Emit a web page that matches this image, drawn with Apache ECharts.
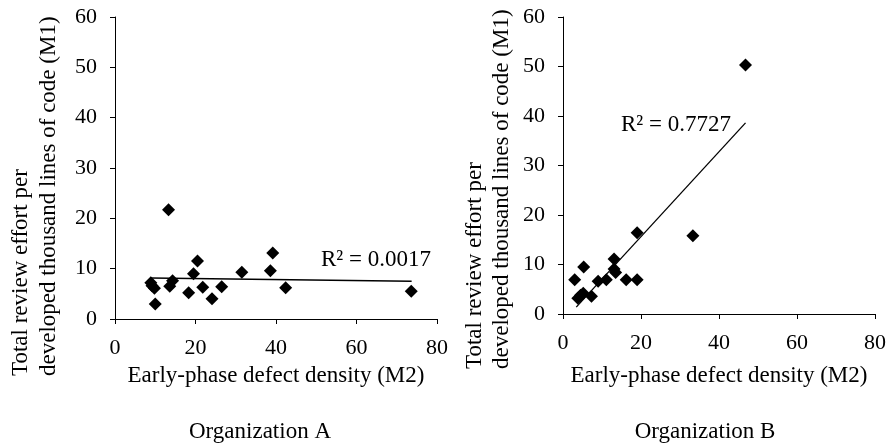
<!DOCTYPE html>
<html>
<head>
<meta charset="utf-8">
<script src="https://cdn.jsdelivr.net/npm/echarts@6/dist/echarts.min.js"></script>
<style>
html,body{margin:0;padding:0;background:#fff;}
#chart{width:889px;height:446px;}
</style>
</head>
<body>
<div id="chart"></div>
<script>
// Organization A
var orgAX = [8.9, 9.2, 9.8, 10.0, 13.3, 13.6, 14.3, 18.3, 19.5, 20.5, 21.8, 24.1, 26.5, 31.5, 38.6, 39.2, 42.4, 73.6];
var orgAY = [7.2, 6.6, 6.1, 3.0, 21.7, 6.5, 7.6, 5.2, 9.0, 11.5, 6.3, 4.0, 6.4, 9.3, 9.6, 13.1, 6.2, 5.5];
var trendAX = [8.9, 73.7];
var trendAY = [8.15, 7.5];
var r2A = 'R² = 0.0017';

// Organization B
var orgBX = [3.0, 3.8, 4.5, 5.2, 5.3, 7.3, 9.0, 11.1, 13.1, 13.1, 13.5, 16.2, 19.0, 19.0, 33.3, 46.8];
var orgBY = [6.9, 3.2, 3.8, 4.2, 9.5, 3.6, 6.6, 6.9, 11.1, 9.1, 8.4, 6.9, 6.9, 16.4, 15.8, 50.3];
var trendBX = [3.4, 46.8];
var trendBY = [1.4, 38.6];
var r2B = 'R² = 0.7727';

var xTitle = 'Early-phase defect density (M2)';
var yTitle = 'Total review effort per\ndeveloped thousand lines of code (M1)';
var panelTitles = ['Organization A', 'Organization B'];

function zip(xs, ys) { return xs.map(function (x, i) { return [x, ys[i]]; }); }

var FONT = '"Liberation Serif", "Times New Roman", serif';
var chart = echarts.init(document.getElementById('chart'));

function xAxisDef(gi, gap) {
  return {
    type: 'value', gridIndex: gi, min: 0, max: 80, interval: 20,
    name: xTitle, nameLocation: 'middle', nameGap: gap,
    nameTextStyle: { fontFamily: FONT, fontSize: 23, color: '#000' },
    axisLine: { show: true, onZero: false, lineStyle: { color: '#000', width: 1 } },
    axisTick: { show: true, inside: false, length: 5, lineStyle: { color: '#000' } },
    axisLabel: { fontFamily: FONT, fontSize: 22, color: '#000', margin: 18 },
    splitLine: { show: false }
  };
}
function yAxisDef(gi) {
  return {
    type: 'value', gridIndex: gi, min: 0, max: 60, interval: 10,
    axisLine: { show: true, onZero: false, lineStyle: { color: '#000', width: 1 } },
    axisTick: { show: true, inside: false, length: 5, lineStyle: { color: '#000' } },
    axisLabel: { fontFamily: FONT, fontSize: 22, color: '#000', margin: 18 },
    splitLine: { show: false }
  };
}

var option = {
  backgroundColor: '#fff',
  animation: false,
  grid: [
    { left: 115, right: 452, top: 17, bottom: 127 },
    { left: 563, right: 13, top: 17, bottom: 132 }
  ],
  xAxis: [xAxisDef(0, 45), xAxisDef(1, 50)],
  yAxis: [yAxisDef(0), yAxisDef(1)],
  series: [
    { type: 'scatter', xAxisIndex: 0, yAxisIndex: 0, data: zip(orgAX, orgAY),
      symbol: 'diamond', symbolSize: 13, itemStyle: { color: '#000', opacity: 1 } },
    { type: 'line', xAxisIndex: 0, yAxisIndex: 0, data: zip(trendAX, trendAY),
      symbol: 'none', lineStyle: { color: '#000', width: 1.3 } },
    { type: 'scatter', xAxisIndex: 1, yAxisIndex: 1, data: zip(orgBX, orgBY),
      symbol: 'diamond', symbolSize: 13, itemStyle: { color: '#000', opacity: 1 } },
    { type: 'line', xAxisIndex: 1, yAxisIndex: 1, data: zip(trendBX, trendBY),
      symbol: 'none', lineStyle: { color: '#000', width: 1.3 } }
  ],
  graphic: [
    { type: 'text', x: 35, y: 376, rotation: Math.PI / 2,
      style: { text: yTitle, font: '23px ' + FONT, fill: '#000', lineHeight: 28,
               textAlign: 'left', textVerticalAlign: 'middle', align: 'left', verticalAlign: 'middle' } },
    { type: 'text', x: 488, y: 369, rotation: Math.PI / 2,
      style: { text: yTitle, font: '23px ' + FONT, fill: '#000', lineHeight: 27,
               textAlign: 'left', textVerticalAlign: 'middle', align: 'left', verticalAlign: 'middle' } },
    { type: 'text', x: 321, y: 260,
      style: { text: r2A, font: '23px ' + FONT, fill: '#000',
               textAlign: 'left', textVerticalAlign: 'middle', align: 'left', verticalAlign: 'middle' } },
    { type: 'text', x: 621, y: 125,
      style: { text: r2B, font: '23px ' + FONT, fill: '#000',
               textAlign: 'left', textVerticalAlign: 'middle', align: 'left', verticalAlign: 'middle' } },
    { type: 'text', x: 260, y: 432,
      style: { text: panelTitles[0], font: '23px ' + FONT, fill: '#000',
               textAlign: 'center', textVerticalAlign: 'middle', align: 'center', verticalAlign: 'middle' } },
    { type: 'text', x: 705, y: 432,
      style: { text: panelTitles[1], font: '23px ' + FONT, fill: '#000',
               textAlign: 'center', textVerticalAlign: 'middle', align: 'center', verticalAlign: 'middle' } }
  ]
};
chart.setOption(option);
</script>
</body>
</html>
